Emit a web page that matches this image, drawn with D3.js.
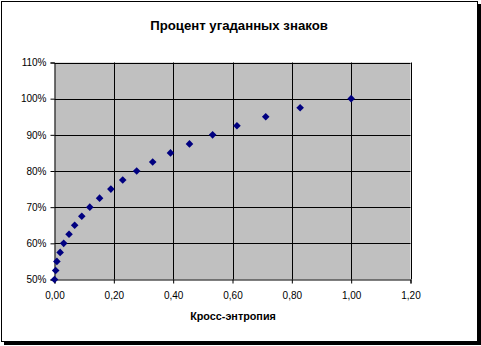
<!DOCTYPE html>
<html>
<head>
<meta charset="utf-8">
<script src="https://cdn.jsdelivr.net/npm/d3@7"></script>
<style>
  body { margin: 0; background: #fff; }
  text { font-family: "Liberation Sans", Arial, sans-serif; fill: #000; }
</style>
</head>
<body>
<script>
// данные
const crossEntropy = [0, 0.004, 0.008, 0.019, 0.031, 0.049, 0.068, 0.092, 0.119, 0.152, 0.19,
  0.23, 0.277, 0.331, 0.391, 0.455, 0.533, 0.615, 0.712, 0.828, 1.0]
const percentGuessed = [50, 52.5, 55, 57.5, 60, 62.5, 65, 67.5, 70, 72.5, 75,
  77.5, 80, 82.5, 85, 87.5, 90, 92.5, 95, 97.5, 100]
const xTicks = [0, 0.2, 0.4, 0.6, 0.8, 1.0, 1.2]
const yTicks = [50, 60, 70, 80, 90, 100, 110]
const title = "Процент угаданных знаков"
const xTitle = "Кросс-энтропия"

const W = 481, H = 346
let svg = d3.select("body").append("svg")
  .attr("width", W).attr("height", H)

// рамка с тенью
svg.append("rect").attr("x", 4).attr("y", 4).attr("width", 477).attr("height", 341).attr("fill", "#000")
svg.append("rect").attr("x", 1.5).attr("y", 1.5).attr("width", 476).attr("height", 340)
  .attr("fill", "#fff").attr("stroke", "#000").attr("stroke-width", 1)

let pLeft = 54.5, pRight = 410.5, pTop = 62.5, pBottom = 279.5

let x = d3.scaleLinear().domain([0, 1.2]).range([pLeft, pRight])
let y = d3.scaleLinear().domain([50, 110]).range([pBottom, pTop])

svg.append("rect")
  .attr("x", pLeft).attr("y", pTop)
  .attr("width", pRight - pLeft).attr("height", pBottom - pTop)
  .attr("fill", "#c0c0c0")

// сетка
svg.append("g").selectAll("line").data(yTicks.slice(1)).enter().append("line")
  .attr("x1", pLeft).attr("x2", pRight)
  .attr("y1", d => Math.round(y(d)) + 0.5).attr("y2", d => Math.round(y(d)) + 0.5)
  .attr("stroke", "#000")
svg.append("g").selectAll("line").data(xTicks.slice(1)).enter().append("line")
  .attr("y1", pTop).attr("y2", pBottom)
  .attr("x1", d => Math.round(x(d)) + 0.5).attr("x2", d => Math.round(x(d)) + 0.5)
  .attr("stroke", "#000")

// оси
let fmtX = d => d3.format(".2f")(d).replace(".", ",")
let fmtY = d => d + "%"

let xAxis = svg.append("g")
  .attr("transform", "translate(0," + pBottom + ")")
  .call(d3.axisBottom(x).tickValues(xTicks).tickFormat(fmtX).tickSize(4).tickPadding(8))
let yAxis = svg.append("g")
  .attr("transform", "translate(" + pLeft + ",0)")
  .call(d3.axisLeft(y).tickValues(yTicks).tickFormat(fmtY).tickSize(4).tickPadding(4))

svg.selectAll(".domain").attr("stroke", "#000")
svg.selectAll(".tick line").attr("stroke", "#000")
svg.selectAll(".tick text")
  .attr("font-family", "Liberation Sans, Arial, sans-serif")
  .attr("font-size", 10).attr("fill", "#000")

// точки
let points = crossEntropy.map((c, i) => ({ c: c, p: percentGuessed[i] }))
svg.append("g").selectAll("path").data(points).enter().append("path")
  .attr("d", "M0,-3.8L3.8,0L0,3.8L-3.8,0Z")
  .attr("transform", d => "translate(" + x(d.c) + "," + y(d.p) + ")")
  .attr("fill", "#000080")

// заголовки
svg.append("text")
  .attr("x", 239).attr("y", 30)
  .attr("text-anchor", "middle")
  .attr("font-size", 13.2).attr("font-weight", "bold")
  .text(title)
svg.append("text")
  .attr("x", 233).attr("y", 320)
  .attr("text-anchor", "middle")
  .attr("font-size", 10.8).attr("font-weight", "bold")
  .text(xTitle)
</script>
</body>
</html>
